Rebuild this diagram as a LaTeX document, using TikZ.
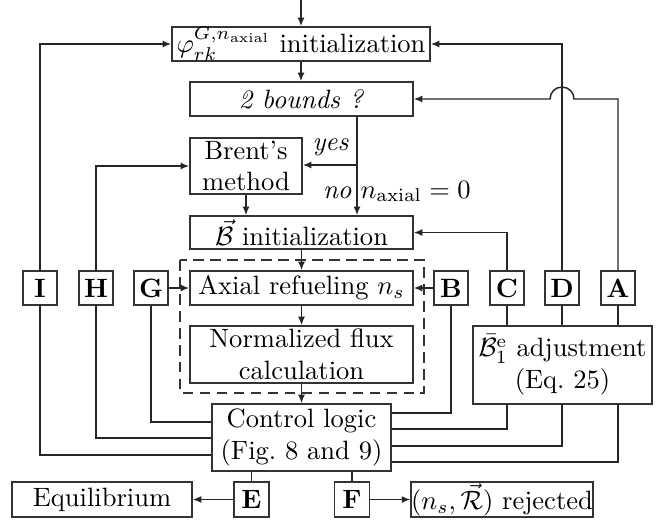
\documentclass[tikz,border=0pt]{standalone}
\usepackage{amsmath}
\usetikzlibrary{arrows.meta}
\newcommand\pxu{0.377pt}
\begin{document}
\begin{tikzpicture}[x=0.377pt, y=-0.377pt,
  box/.style={draw=black!80, line width=0.6pt, inner sep=0pt, align=center},
  tag/.style={box, minimum width=34*\pxu, minimum height=34*\pxu, font=\bfseries},
  link/.style={draw=black!85, line width=0.55pt},
  flow/.style={link, -{Latex[length=3.2pt,width=2.6pt]}},
  lbl/.style={inner sep=0pt}]
\useasboundingbox (0,0) rectangle (662,520);

% main column
\node[box, minimum width=258*\pxu, minimum height=34*\pxu] (phi) at (301,44)
  {$\varphi_{rk}^{G,n_\mathrm{axial}}$ initialization};
\node[box, minimum width=223*\pxu, minimum height=34*\pxu] (bounds) at (301.5,99)
  {\textit{2 bounds ?}};
\node[box, minimum width=112*\pxu, minimum height=56*\pxu] (brent) at (246,166)
  {Brent's\\method};
\node[box, minimum width=223*\pxu, minimum height=33*\pxu] (binit) at (301.5,232.5)
  {$\vec{\mathcal{B}}$ initialization};
\node[box, minimum width=223*\pxu, minimum height=34*\pxu] (axial) at (301.5,288)
  {Axial refueling $n_s$};
\node[box, minimum width=223*\pxu, minimum height=57*\pxu] (norm) at (301.5,354.5)
  {Normalized flux\\calculation};
\node[box, minimum width=179*\pxu, minimum height=67*\pxu] (ctrl) at (301.5,437.5)
  {Control logic\\(Fig.~8 and 9)};
\node[box, minimum width=179*\pxu, minimum height=78*\pxu] (adj) at (562.5,365)
  {$\bar{\mathcal{B}}_1^\mathrm{e}$ adjustment\\(Eq.~25)};

% dashed group around the refuelling and flux steps
\draw[dashed, dash pattern=on 4pt off 2.4pt, line width=0.55pt, black!80]
  (180,260) rectangle (424,393);

% lettered connectors
\node[tag] (I) at (40,288) {I};
\node[tag] (H) at (96,288) {H};
\node[tag] (G) at (151,288) {G};
\node[tag] (B) at (451,288) {B};
\node[tag] (C) at (507,288) {C};
\node[tag] (D) at (562,288) {D};
\node[tag] (A) at (618,288) {A};
\node[box, minimum width=35*\pxu, minimum height=35*\pxu, font=\bfseries] (E) at (251.5,499.5) {E};
\node[box, minimum width=35*\pxu, minimum height=35*\pxu, font=\bfseries] (F) at (352,499.5) {F};

% outcomes
\node[box, minimum width=180*\pxu, minimum height=35*\pxu] (equi) at (102,499.5) {Equilibrium};
\node[box, minimum width=178*\pxu, minimum height=35*\pxu] (rej) at (502,499.5)
  {$(n_s,\vec{\mathcal{R}})$ rejected};

% main flow
\coordinate (start) at (301,0);
\coordinate (split) at (357,165);
\draw[flow] (start) -- (phi.north);
\draw[flow] (phi.south) -- (phi.south |- bounds.north);
\draw[link] (bounds.south -| split) -- (split);
\draw[flow] (split) -- (binit.north -| split);
\draw[flow] (split) -- (brent.east |- split);
\draw[flow] (brent.south) -- (brent.south |- binit.north);
\draw[flow] (binit.south) -- (axial.north);
\draw[flow] (axial.south) -- (norm.north);
\draw[flow] (norm.south) -- (ctrl.north);

\node[lbl, anchor=base west] at (312,150) {\textit{yes}};
\node[lbl, anchor=base east] at (352,198) {\textit{no}};
\node[lbl, anchor=base west] at (360,198) {$n_\mathrm{axial}=0$};

% left feedback
\draw[flow] (I.north) |- (phi.west);
\draw[flow] (H.north) |- (brent.west);
\draw[flow] (G.east) -- (axial.west);
\draw[link] (G.south) |- (ctrl.west |- 0,422);
\draw[link] (H.south) |- (ctrl.west |- 0,438);
\draw[link] (I.south) |- (ctrl.west |- 0,455);

% right feedback
\draw[flow] (B.west) -- (axial.east);
\draw[flow] (C.north) |- (binit.east);
\draw[flow] (D.north) |- (phi.east);
\draw[flow] (A.north) -- (618,99) -- (574,99)
  arc[start angle=0, end angle=180, radius=12*\pxu] -- (bounds.east);
\draw[link] (C.south) -- (adj.north -| C.south);
\draw[link] (D.south) -- (adj.north -| D.south);
\draw[link] (A.south) -- (adj.north -| A.south);
\draw[link] (B.south) |- (ctrl.east |- 0,413);
\draw[link] (adj.south -| C.south) |- (ctrl.east |- 0,429);
\draw[link] (adj.south -| D.south) |- (ctrl.east |- 0,446);
\draw[link] (adj.south -| A.south) |- (ctrl.east |- 0,462);

% exits
\draw[link] (ctrl.south -| E.north) -- (E.north);
\draw[link] (ctrl.south -| F.north) -- (F.north);
\draw[flow] (E.west) -- (equi.east);
\draw[flow] (F.east) -- (rej.west);
\end{tikzpicture}
\end{document}
